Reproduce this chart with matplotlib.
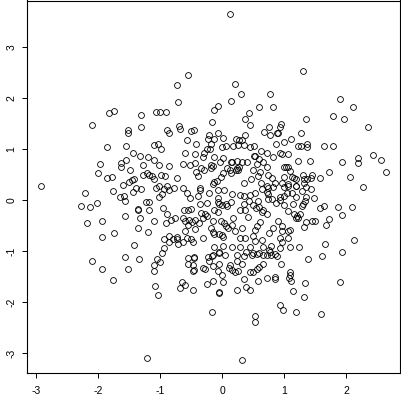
import matplotlib
matplotlib.use('Agg')
import matplotlib.pyplot as plt

# point coordinates, grouped by region (x and y rows line up)
x = [
    -2.10, -1.83, -1.745, -1.31, -1.31, -1.53, -1.53,
    0.126, -0.55, -0.74, 0.20, -0.72, 0.14, 0.30, 0.76, -0.08, -0.14, 0.59, 0.81, 0.42, 0.37, 0.45,
    -1.07, -1.00, -0.91, -0.17, 0.745, -0.70, -0.69, -0.90, -0.86, -0.50, -0.46, 0.67, 0.77, -0.08, -0.21, 0.37,
    1.30, 1.90, 2.11, 1.35, 1.79, 1.96, 2.34, 0.92, 0.95, 0.88, 0.90, 1.27,
    -1.87, -1.55, -1.45, -1.33, -1.20, -1.97, -1.64, -1.63, -1.55, -1.29, -1.49, -2.00, -1.86, -1.79, -1.28,
    -1.21, -1.19, -1.51, -1.46, -1.42, -2.93, -1.60, -1.40, -1.31, -1.44, -1.77, -2.21, -1.66, -1.59, -1.57,
    -1.23, -1.19, -2.28, -2.13, -2.02, -1.36, -1.36, -1.19, -1.58, -1.33, -2.18, -1.95, -1.36, -1.75, -1.20,
    -1.95, -1.43, -1.57, -1.35, -2.10,
    -1.95, -1.52, -1.77, -1.22,
    0.31, -0.17, 0.53, 0.53, -1.09, -1.04, -1.11, -1.11, -1.05, -1.00, -0.98, -0.66, -0.60, -0.68, -0.47,
    -0.55, -0.46, -0.46, -0.55, -0.48, -0.48, -0.46, -0.31, -0.29, -0.23, -0.17, -0.16, -0.22, -0.16, -0.06,
    -0.06, 0.035, -0.05, -0.07, -0.01, 0.01, -0.16, -0.25, -0.05, -0.05, 0.12, 0.11, 0.15, 0.20, 0.25,
    0.24, 0.24, 0.31, 0.35, 0.38, 0.50, 0.48, 0.56, 0.59, 0.66, 0.72, 0.79, 0.85, 0.77, 0.35,
    0.24, 0.38, 0.45, 0.44, 0.50, 0.56, 0.59, 0.65, 0.57, 0.72, 0.84,
    0.85, 0.88, 0.95, 1.38, 1.60, 1.93, 1.09, 1.09, 1.07, 1.11, 1.33, 1.90, 1.14, 1.32, 0.93, 0.97, 1.19,
    1.59, 0.75,
    0.87, 0.99, 1.10, 1.22, 1.27, 1.36, 1.36, 1.63, 1.78, 0.71, 0.81, 0.92, 0.96, 1.05, 1.21, 1.41, 1.92,
    2.19, 2.19, 2.43, 2.56, 2.64, 2.26, 2.06, 1.72, 1.57, 0.72, 1.00, 1.03, 1.06, 1.09, 0.73, 0.80, 0.99,
    1.12, 1.15, 1.18, 1.30, 1.31, 1.36, 1.44, 1.43, 0.85, 0.965, 1.05, 1.06, 0.99, 1.19, 1.19, 0.71, 0.74,
    0.81, 1.31, 1.34, 1.43, 1.28, 1.04, 1.12, 0.71, 0.74, 1.18, 1.34, 1.48, 1.33, 0.74, 0.80, 0.86, 0.93,
    0.93, 1.00, 1.00, 1.14, 1.28, 1.30, 1.06, 1.58, 1.63, 1.86, 2.09, 1.93, 1.72, 1.67, 1.44, 1.49, 1.16,
    1.20, 1.22, 1.25, 1.19, 1.35, 1.31, 0.89, 0.81, 0.75, 0.965, 0.955, 1.05, 1.09, 0.93, 0.965, 1.05, 1.65,
    2.12, 1.23, 1.09, 0.92, 0.79, 0.71,
    -0.57, -0.42, -1.10, -1.04, -0.99, -0.23, -0.20, -0.25, -0.30, -0.60, -0.45, -0.32, -1.10, -1.03, -0.63,
    -0.52, -0.86, -0.45, -0.34, -0.30, -0.19, -1.13, -1.10, -0.99, -0.92, -0.74, -0.42, -0.40, -1.08, -1.02,
    -0.95, -0.89, -0.87, -0.79, -0.98, -0.63, -0.58, -0.37, -0.36, -0.21, -1.03, -0.52, -0.40, -0.37, -0.96,
    -0.89, -0.62, -0.56, -0.51, -0.25, -0.34, -0.29, -0.25, -0.32, -1.10, -0.91, -0.83, -0.77, -0.64, -0.61,
    -0.54, -0.49, -0.44, -0.38, -0.56, -0.60, -0.45, -0.19, -0.95, -0.87, -0.80, -0.74, -0.73, -0.58, -0.50,
    -0.64, -0.31, -0.87, -0.71, -0.47, -0.94,
    -0.14, -0.18, 0.01, 0.21, 0.26, 0.31, 0.35, 0.25, 0.17, -0.01, 0.05, 0.44, 0.51, 0.62, -0.13,
    0.01, 0.51, 0.53, 0.59, 0.56, 0.66, -0.04, 0.14, 0.16, 0.23, 0.26, 0.31, 0.39, 0.08, 0.12,
    0.14, 0.21, 0.23, 0.25, -0.18, -0.15, 0.49, 0.60, 0.58, -0.03, 0.01, -0.16, -0.13, -0.09, 0.35,
    0.46, 0.62, -0.07, 0.02, 0.15, 0.28, 0.34, 0.44, 0.52, 0.64, -0.08, -0.07, -0.06, -0.01, 0.05,
    0.07, 0.14, 0.34, 0.42, 0.57, -0.13, -0.08, 0.28, 0.36, 0.50, 0.54, 0.59, 0.64, 0.66, -0.16,
    -0.03, 0.17, 0.41, -0.15, 0.03, 0.06, 0.09, 0.15, 0.20, 0.31, 0.55, 0.60, 0.52, 0.49, -0.14,
    -0.06, -0.01, 0.01, 0.29, 0.36, 0.52, 0.64, -0.14, 0.01, 0.15, 0.28, 0.44, 0.66,
]
y = [
    1.48, 1.71, 1.745, 1.66, 1.43, 1.37, 1.32,
    3.64, 2.46, 2.25, 2.27, 1.92, 1.95, 2.07, 2.08, 1.84, 1.76, 1.82, 1.83, 1.71, 1.58, 1.48,
    1.73, 1.73, 1.73, 1.52, 1.44, 1.45, 1.39, 1.37, 1.31, 1.35, 1.37, 1.33, 1.28, 1.31, 1.27, 1.27,
    2.52, 1.99, 1.82, 1.59, 1.65, 1.58, 1.43, 1.44, 1.50, 1.32, 1.31, 1.31,
    1.03, 1.06, 0.93, 0.87, 0.84, 0.71, 0.73, 0.64, 0.78, 0.69, 0.58, 0.52, 0.43, 0.46, 0.50,
    0.52, 0.49, 0.36, 0.39, 0.41, 0.27, 0.29, 0.235, 0.21, 0.16, 0.17, 0.14, 0.05, 0.07, -0.02,
    -0.04, -0.03, -0.12, -0.13, -0.05, -0.18, -0.20, -0.20, -0.31, -0.35, -0.46, -0.41, -0.54, -0.65, -0.63,
    -0.72, -0.89, -1.12, -1.16, -1.19,
    -1.36, -1.35, -1.56, -3.10,
    -3.14, -2.20, -2.28, -2.39, -1.69, -1.87, -1.28, -1.39, -1.16, -1.22, -1.03, -1.60, -1.66, -1.72, -1.77,
    -1.14, -1.11, -1.13, -1.25, -1.28, -1.39, -1.37, -1.33, -1.35, -1.12, -1.10, -1.08, -1.20, -1.30, -1.01,
    -1.03, -1.08, -1.26, -1.40, -1.48, -1.60, -1.59, -1.65, -1.80, -1.83, -1.28, -1.33, -1.37, -1.41, -1.40,
    -1.08, -1.20, -1.26, -1.09, -1.02, -1.03, -1.08, -1.05, -1.03, -1.08, -1.08, -1.07, -1.06, -1.01, -1.54,
    -1.76, -1.71, -1.76, -1.42, -1.42, -1.35, -1.32, -1.26, -1.59, -1.52, -1.50,
    -1.55, -1.10, -1.26, -1.16, -1.10, -1.01, -1.42, -1.48, -1.52, -1.59, -1.62, -1.61, -1.79, -1.91, -2.05, -2.15, -2.19,
    -2.24, -0.99,
    1.10, 1.14, 1.20, 1.05, 1.05, 1.10, 1.03, 1.06, 1.05, 0.93, 0.84, 0.92, 0.91, 0.91, 0.76, 0.76, 0.75,
    0.82, 0.72, 0.88, 0.79, 0.54, 0.25, 0.45, 0.555, 0.44, 0.65, 0.65, 0.65, 0.65, 0.56, 0.49, 0.43, 0.46,
    0.45, 0.43, 0.41, 0.49, 0.41, 0.41, 0.50, 0.44, 0.33, 0.33, 0.32, 0.27, 0.26, 0.27, 0.28, 0.28, 0.23,
    0.25, 0.33, 0.26, 0.22, 0.18, 0.14, 0.14, 0.15, 0.11, 0.06, 0.06, 0.03, -0.02, 0.01, 0.01, -0.05, 0.05,
    0.00, 0.07, -0.10, -0.07, -0.12, -0.08, -0.22, -0.16, -0.11, -0.14, -0.14, -0.30, -0.38, -0.49, -0.41, -0.41, -0.27,
    -0.31, -0.35, -0.28, -0.36, -0.44, -0.52, -0.42, -0.54, -0.64, -0.51, -0.60, -0.61, -0.59, -0.75, -0.82, -0.75, -0.86,
    -0.79, -0.93, -0.93, -0.95, -0.91, -0.28,
    1.17, 1.09, 1.08, 1.10, 1.01, 1.20, 1.01, 1.00, 0.92, 0.93, 0.91, 0.84, 0.79, 0.69, 0.71,
    0.69, 0.66, 0.73, 0.63, 0.59, 0.69, 0.48, 0.41, 0.50, 0.48, 0.43, 0.54, 0.48, 0.24, 0.27,
    0.22, 0.27, 0.20, 0.23, 0.12, 0.23, 0.14, 0.23, 0.19, 0.14, 0.05, 0.03, 0.08, -0.07, -0.16,
    -0.28, -0.20, -0.19, -0.18, -0.06, -0.25, -0.27, -0.32, -0.36, -0.41, -0.45, -0.39, -0.35, -0.36, -0.41,
    -0.40, -0.44, -0.39, -0.45, -0.49, -0.61, -0.57, -0.55, -0.76, -0.71, -0.76, -0.73, -0.76, -0.74, -0.76,
    -0.83, -0.74, -0.83, -0.87, -0.82, -0.95,
    1.20, 1.10, 1.21, 1.20, 1.17, 1.18, 1.08, 1.08, 1.06, 1.04, 1.06, 1.03, 1.05, 0.96, 0.84,
    0.82, 0.86, 0.87, 0.80, 0.71, 0.74, 0.74, 0.74, 0.75, 0.76, 0.65, 0.74, 0.75, 0.63, 0.59,
    0.53, 0.59, 0.62, 0.58, 0.62, 0.66, 0.59, 0.54, 0.48, 0.45, 0.52, 0.32, 0.35, 0.37, 0.33,
    0.41, 0.33, 0.19, 0.20, 0.12, 0.10, 0.07, 0.10, 0.14, 0.22, 0.03, -0.03, -0.08, -0.10, -0.07,
    -0.12, -0.03, -0.07, -0.02, -0.01, -0.19, -0.23, -0.19, -0.20, -0.10, -0.16, -0.14, -0.23, -0.20, -0.41,
    -0.41, -0.36, -0.33, -0.62, -0.46, -0.50, -0.54, -0.49, -0.61, -0.55, -0.50, -0.44, -0.58, -0.70, -0.66,
    -0.66, -0.69, -0.73, -0.75, -0.74, -0.80, -0.79, -0.92, -0.91, -0.92, -0.92, -0.92, -0.92,
]

xticks = [-3, -2, -1, 0, 1, 2]
yticks = [-3, -2, -1, 0, 1, 2, 3]

fig = plt.figure(figsize=(4.01, 4.01), dpi=100)
ax = fig.add_axes([27 / 401, 28 / 401, 373 / 401, 372.5 / 401])

ax.plot(x, y, linestyle='none', marker='o', markersize=4.2,
        markerfacecolor='none', markeredgecolor='black', markeredgewidth=0.6)

ax.set_xlim(-3.153, 2.863)
ax.set_ylim(-3.392, 3.912)
ax.set_xticks(xticks)
ax.set_yticks(yticks)
ax.set_xticklabels([str(v) for v in xticks], family='Liberation Sans', fontsize=7.5)
ax.set_yticklabels([str(v) for v in yticks], family='Liberation Sans', fontsize=7.5,
                   rotation=90, va='center')
ax.tick_params(axis='x', length=3.6, width=0.7, pad=5.5)
ax.tick_params(axis='y', length=3.6, width=0.7, pad=4.0)
for s in ax.spines.values():
    s.set_linewidth(0.8)

plt.savefig('out.png', dpi=100)
